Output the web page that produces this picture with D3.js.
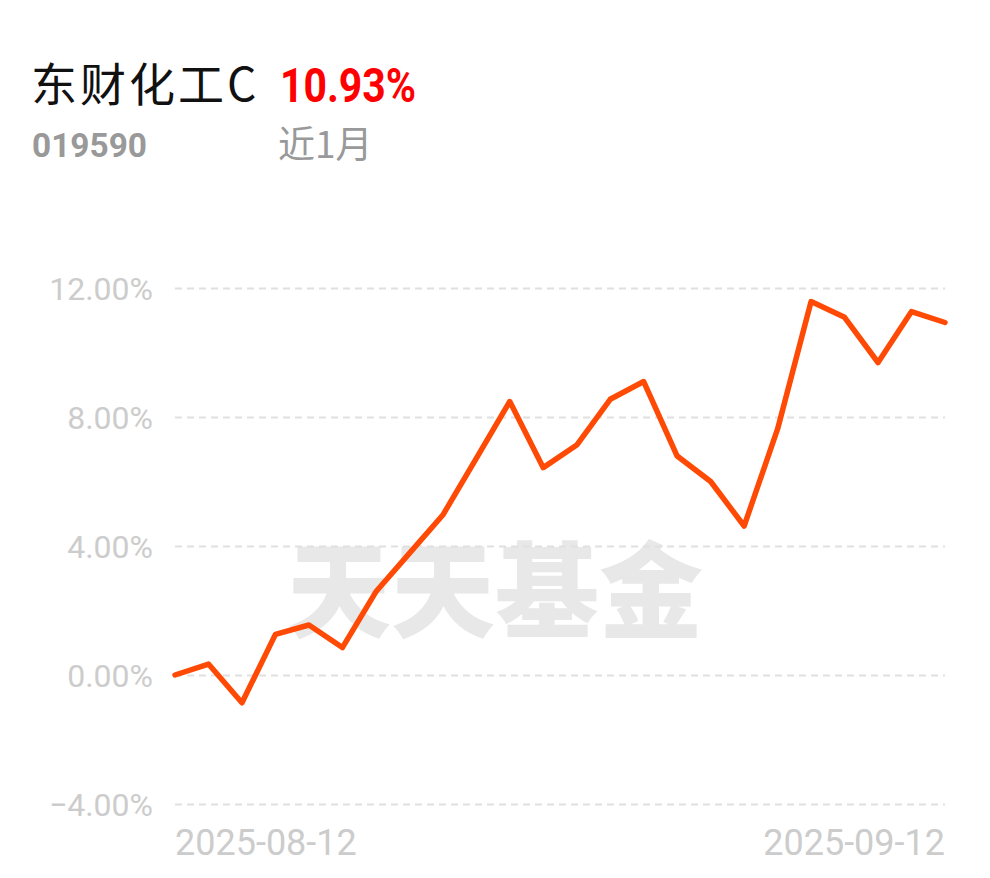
<!DOCTYPE html>
<html>
<head>
<meta charset="utf-8">
<script src="https://cdn.jsdelivr.net/npm/d3@7/dist/d3.min.js"></script>
<style>
  html, body { margin: 0; padding: 0; background: #ffffff; }
  svg { display: block; }
</style>
</head>
<body>
<svg id="chart" width="990" height="878"></svg>
<script>
// ---- data ----
const fundName = "东财化工C";
const fundCode = "019590";
const periodLabel = "近1月";
const returnLabel = "10.93%";
const watermark = "天天基金";

const dates = [
  "2025-08-12","2025-08-13","2025-08-14","2025-08-15",
  "2025-08-18","2025-08-19","2025-08-20","2025-08-21","2025-08-22",
  "2025-08-25","2025-08-26","2025-08-27","2025-08-28","2025-08-29",
  "2025-09-01","2025-09-02","2025-09-03","2025-09-04","2025-09-05",
  "2025-09-08","2025-09-09","2025-09-10","2025-09-11","2025-09-12"
];
const returns = [
  0.00, 0.34, -0.86, 1.26, 1.55, 0.85, 2.58, 3.77, 4.96,
  6.72, 8.48, 6.43, 7.13, 8.55, 9.10, 6.79, 6.00, 4.62,
  7.63, 11.58, 11.09, 9.69, 11.27, 10.93
];
const yTicks = [-4, 0, 4, 8, 12];
const xTickLabels = ["2025-08-12", "2025-09-12"];

// ---- drawing ----
(function () {
const svg = d3.select("#chart");
const plotLeft = 175, plotRight = 945, plotTop = 288, plotBottom = 804;

const x = d3.scalePoint().domain(dates).range([plotLeft, plotRight]);
const y = d3.scaleLinear().domain([-4, 12]).range([plotBottom, plotTop]);

// title block
svg.append("text")
  .attr("x", 31).attr("y", 101)
  .attr("font-family", "'Noto Sans CJK SC', sans-serif")
  .attr("font-size", 46)
  .attr("letter-spacing", 3)
  .attr("fill", "#111")
  .text(fundName);

svg.append("text")
  .attr("x", 280).attr("y", 102)
  .attr("font-family", "Roboto, sans-serif")
  .attr("font-weight", 700)
  .attr("font-size", 48)
  .attr("fill", "#ff0000")
  .attr("textLength", 136)
  .attr("lengthAdjust", "spacingAndGlyphs")
  .text(returnLabel);

svg.append("text")
  .attr("x", 32).attr("y", 157)
  .attr("font-family", "Roboto, sans-serif")
  .attr("font-weight", 700)
  .attr("font-size", 33)
  .attr("fill", "#999")
  .attr("textLength", 115)
  .attr("lengthAdjust", "spacingAndGlyphs")
  .text(fundCode);

svg.append("text")
  .attr("x", 278).attr("y", 158)
  .attr("font-family", "'Noto Sans CJK SC', sans-serif")
  .attr("font-size", 37)
  .attr("fill", "#999")
  .text(periodLabel);

// watermark
svg.append("text")
  .attr("x", 495).attr("y", 630)
  .attr("text-anchor", "middle")
  .attr("font-family", "'Noto Sans CJK SC', sans-serif")
  .attr("font-weight", 900)
  .attr("font-size", 104)
  .attr("fill", "#e8e8e8")
  .text(watermark);

// grid lines + y labels
const yAxis = d3.axisLeft(y)
  .tickValues(yTicks)
  .tickSize(-(plotRight - plotLeft))
  .tickPadding(22)
  .tickFormat(d => (d < 0 ? "\u2212" + Math.abs(d).toFixed(2) : d.toFixed(2)) + "%");

const gy = svg.append("g")
  .attr("transform", `translate(${plotLeft},0)`)
  .call(yAxis);
gy.select(".domain").remove();
gy.selectAll(".tick line")
  .attr("stroke", "#e0e0e0")
  .attr("stroke-width", 2)
  .attr("stroke-dasharray", "7,5");
gy.selectAll(".tick text")
  .attr("font-family", "Roboto, sans-serif")
  .attr("font-size", 32)
  .attr("fill", "#cccccc")
  .attr("dy", "0.36em");

// x labels
const gx = svg.append("g");
gx.selectAll("text")
  .data(xTickLabels)
  .join("text")
  .attr("x", d => x(d))
  .attr("y", 855)
  .attr("text-anchor", (d, i) => i === 0 ? "start" : "end")
  .attr("font-family", "Roboto, sans-serif")
  .attr("font-size", 36)
  .attr("fill", "#cccccc")
  .text(d => d);

// line
const line = d3.line()
  .x((d, i) => x(dates[i]))
  .y(d => y(d));

svg.append("path")
  .datum(returns)
  .attr("d", line)
  .attr("fill", "none")
  .attr("stroke", "#ff4a05")
  .attr("stroke-width", 5.5)
  .attr("stroke-linejoin", "round")
  .attr("stroke-linecap", "round");
})();
</script>
</body>
</html>
